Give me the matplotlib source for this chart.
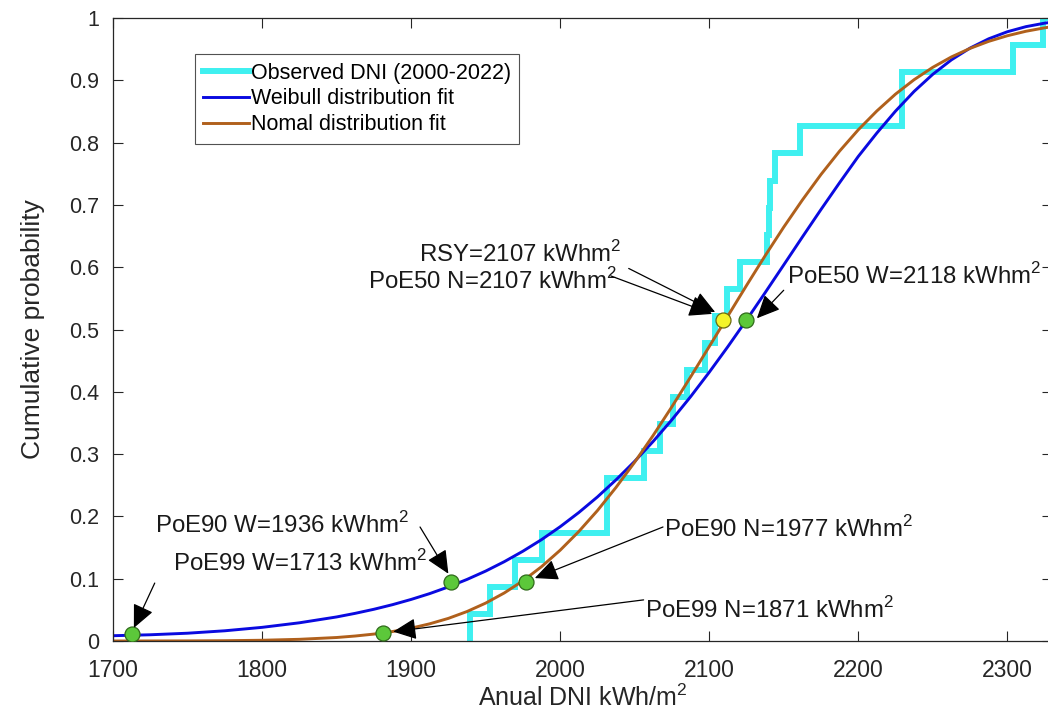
import numpy as np
import matplotlib
matplotlib.use("Agg")
import matplotlib.pyplot as plt

# --- data ---
# observed annual DNI (2000-2022), sorted, kWh/m2
observed_dni = [1939.6, 1953, 1970, 1988, 2031.5, 2031.5, 2056, 2067, 2076, 2085,
                2097, 2104, 2112, 2121, 2139, 2140, 2141, 2144, 2161, 2229.5,
                2229.5, 2304, 2324]

# fitted CDF curves
fit_x = [1700, 1725, 1750, 1775, 1800, 1825, 1850, 1862.5, 1875, 1887.5, 1900,
         1912.5, 1925, 1937.5, 1950, 1962.5, 1975, 1987.5, 2000, 2012.5, 2025,
         2037.5, 2050, 2062.5, 2075, 2087.5, 2100, 2112.5, 2125, 2137.5, 2150,
         2162.5, 2175, 2187.5, 2200, 2212.5, 2225, 2237.5, 2250, 2262.5, 2275,
         2287.5, 2300, 2312.5, 2325, 2330]
weibull_cdf = [0.0085, 0.0100, 0.0125, 0.0164, 0.0219, 0.0292, 0.0386, 0.0444,
               0.0509, 0.0583, 0.0667, 0.0761, 0.0868, 0.0988, 0.1122, 0.1273,
               0.1441, 0.1627, 0.1834, 0.2062, 0.2312, 0.2587, 0.2884, 0.3206,
               0.3552, 0.3921, 0.4313, 0.4724, 0.5151, 0.5590, 0.6036, 0.6484,
               0.6926, 0.7357, 0.7777, 0.8154, 0.8505, 0.8822, 0.9096, 0.9328,
               0.9517, 0.9666, 0.9779, 0.9861, 0.9917, 0.9933]
normal_cdf = [0.0000, 0.0001, 0.0002, 0.0005, 0.0012, 0.0027, 0.0056, 0.0080,
              0.0111, 0.0152, 0.0206, 0.0276, 0.0363, 0.0473, 0.0608, 0.0771,
              0.0965, 0.1193, 0.1457, 0.1757, 0.2093, 0.2466, 0.2870, 0.3303,
              0.3761, 0.4238, 0.4725, 0.5216, 0.5705, 0.6183, 0.6643, 0.7078,
              0.7488, 0.7864, 0.8205, 0.8508, 0.8778, 0.9010, 0.9208, 0.9375,
              0.9512, 0.9625, 0.9715, 0.9787, 0.9842, 0.9861]

# marked points (x, y)
green_x = [1713, 1927, 1977, 1881, 2125]
green_y = [0.011, 0.095, 0.094, 0.013, 0.515]
rsy_x = [2109]
rsy_y = [0.515]

# annotations: label, text position (left, baseline), arrow tail, arrow head
notes = [
    ("RSY=2107 kWhm$^2$", (1905, 0.608), (2046, 0.598), (2104, 0.528)),
    ("PoE50 N=2107 kWhm$^2$", (1871, 0.565), (2034, 0.586), (2102, 0.525)),
    ("PoE50 W=2118 kWhm$^2$", (2152, 0.573), (2150, 0.563), (2132, 0.518)),
    ("PoE90 W=1936 kWhm$^2$", (1728, 0.173), (1906, 0.183), (1925, 0.108)),
    ("PoE99 W=1713 kWhm$^2$", (1740, 0.112), (1728, 0.093), (1714, 0.021)),
    ("PoE90 N=1977 kWhm$^2$", (2070, 0.167), (2069, 0.183), (1983, 0.101)),
    ("PoE99 N=1871 kWhm$^2$", (2057, 0.037), (2056, 0.066), (1888, 0.015)),
]

x_ticks = [1700, 1800, 1900, 2000, 2100, 2200, 2300]
y_ticks = [0, 0.1, 0.2, 0.3, 0.4, 0.5, 0.6, 0.7, 0.8, 0.9, 1]

plt.rcParams["font.family"] = ["Liberation Sans", "DejaVu Sans"]
plt.rcParams["mathtext.fontset"] = "custom"
plt.rcParams["mathtext.rm"] = "Liberation Sans"

fig = plt.figure(figsize=(10.48, 7.16), dpi=100)
ax = fig.add_axes([113 / 1048, 1 - 641 / 716, (1052 - 113) / 1048, (641 - 18) / 716])

# empirical CDF as stairs
n = len(observed_dni)
sx = [observed_dni[0]] + observed_dni + [2340]
sy = [0] + [(i + 1) / n for i in range(n)] + [1]
ax.plot(sx, sy, drawstyle="steps-post", color="#3ff0f0", lw=4.3,
        label="Observed DNI (2000-2022)", solid_joinstyle="miter")
ax.plot(fit_x, weibull_cdf, color="#0a0ae0", lw=2.1, label="Weibull distribution fit")
ax.plot(fit_x, normal_cdf, color="#b0601c", lw=2.1, label="Nomal distribution fit")

ax.plot(green_x, green_y, "o", ms=10.8, mfc="#5cc83a", mec="#2f6a1a", mew=0.9, zorder=5)
ax.plot(rsy_x, rsy_y, "o", ms=10.8, mfc="#f4f42a", mec="#6a6a10", mew=0.9, zorder=5)

for label, tpos, tail, head in notes:
    ax.text(tpos[0], tpos[1], label, fontsize=17.3, ha="left",
            va="baseline", color="#1a1a1a", zorder=6)
    ax.annotate("", xy=head, xytext=tail,
                arrowprops=dict(arrowstyle="-|>,head_length=0.65,head_width=0.3",
                                color="black", lw=0.9, mutation_scale=22,
                                shrinkA=0, shrinkB=0), zorder=6)

ax.set_xlim(1700, 2330)
ax.set_ylim(0, 1)
ax.set_xticks(x_ticks)
ax.set_yticks(y_ticks)
ax.set_yticklabels([f"{v:g}" for v in y_ticks], fontsize=15.5)
ax.set_xticklabels([str(v) for v in x_ticks], fontsize=16.5)
ax.tick_params(direction="in", length=7, width=0.8, top=True, right=True,
               colors="#262626", labelcolor="#262626")
ax.tick_params(axis="x", pad=13)
ax.tick_params(axis="y", pad=10)
for s in ax.spines.values():
    s.set_color("#262626")
    s.set_linewidth(0.9)

ax.set_xlabel("Anual DNI kWh/m$^2$", fontsize=18, color="#262626", labelpad=2)
ax.set_ylabel("Cumulative probability", fontsize=19, color="#262626", labelpad=17)

leg = ax.legend(loc="upper left", bbox_to_anchor=(0.087, 0.942), fontsize=15.5,
                frameon=True, fancybox=False, edgecolor="#262626",
                handlelength=2.1, handletextpad=0.1, borderpad=0.4,
                labelspacing=0.22, borderaxespad=0)
leg.get_frame().set_linewidth(0.8)

fig.savefig("out.png", dpi=100, facecolor="white")
